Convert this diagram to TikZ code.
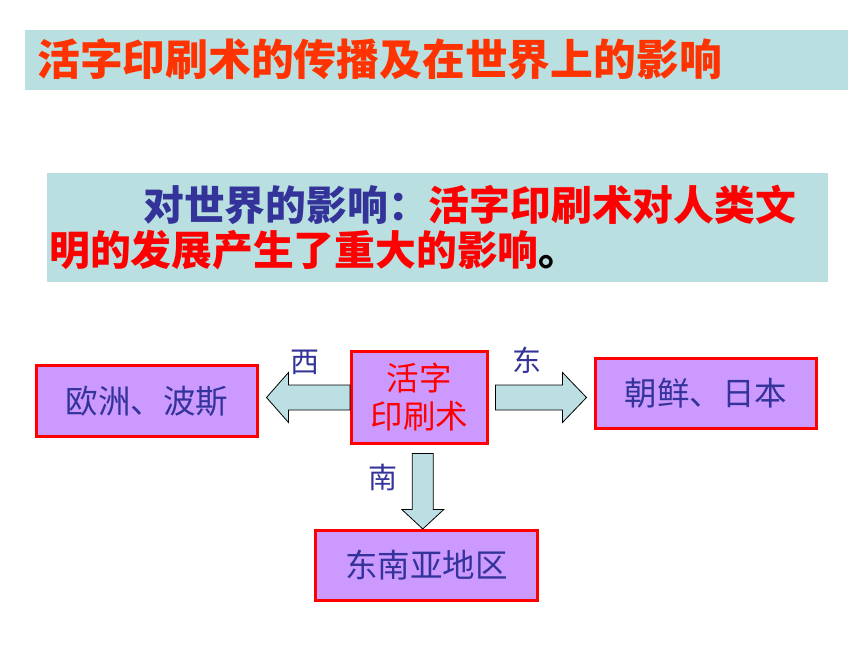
\documentclass[tikz,border=0pt]{standalone}
\usepackage{fontspec}
\usepackage{tikz}
\usetikzlibrary{calc}
\newfontfamily\cjk{Noto Sans CJK SC}
\definecolor{bandfill}{HTML}{B9DFE1}
\definecolor{titlered}{HTML}{FF3300}
\definecolor{infored}{HTML}{FF0000}
\definecolor{infoblue}{HTML}{333399}
\definecolor{boxfill}{HTML}{CC99FF}
\definecolor{arrowfill}{HTML}{BBDFE2}

\begin{document}
\begin{tikzpicture}[x=1pt,y=-1pt,
	band/.style={fill=bandfill,draw=none,inner sep=0pt},
	place/.style={draw=infored,fill=boxfill,line width=3pt,inner sep=0pt,text=infoblue,font=\cjk\fontsize{32.5}{38}\selectfont},
	dirlabel/.style={text=infoblue,inner sep=0pt,font=\cjk\fontsize{29}{32}\selectfont},
	blockarrow/.style={draw=black,fill=arrowfill,line width=0.8pt,line join=miter}]
	\path[use as bounding box,fill=white] (0,0) rectangle (860,645);
	%\node[band] (title) at (436.5,60) {};
	\node[band,minimum width=823pt,minimum height=60pt] (title) at (436.5,60) {};
	\node[anchor=west,inner sep=0pt,text=titlered,font=\cjk\bfseries\fontsize{42.8}{48}\selectfont] (titletext) at (37,59) {活字印刷术的传播及在世界上的影响};
	\node[band,minimum width=781pt,minimum height=109pt] (info) at (437.5,227.5) {};
	\node[anchor=west,inner sep=0pt,font=\cjk\bfseries\fontsize{40.8}{44}\selectfont] (infoa) at (143,205)
		{\textcolor{infoblue}{对世界的影响：}\textcolor{infored}{活字印刷术对人类文}};
	\node[anchor=west,inner sep=0pt,font=\cjk\bfseries\fontsize{40.8}{44}\selectfont] (infob) at (49,250)
		{\textcolor{infored}{明的发展产生了重大的影响}\textcolor{black}{。}};
	% places
	\node[place,minimum width=135.7pt,minimum height=92pt,text=infored,align=center] (print) at (419.3,397.5) {活字\\印刷术};
	\node[place,minimum width=221pt,minimum height=71pt] (europe) at (147,401) {欧洲、波斯};
	\node[place,minimum width=221pt,minimum height=70pt] (korea) at (706,393.5) {朝鲜、日本};
	\node[place,minimum width=221.7pt,minimum height=69.7pt] (asia) at (426.3,565.3) {东南亚地区};
	% arrows
	\coordinate (wtip) at ($(europe.east |- print.west)+(7.5,0)$);
	\coordinate (etip) at ($(korea.west |- print.east)+(-7.5,0)$);
	\coordinate (stip) at ($(print.south |- asia.north)+(3.5,0)$);
	\draw[blockarrow] ($(print.west)+(0,-12.5)$) -- ($(wtip)+(22,-12.5)$) -- ($(wtip)+(22,-25)$) -- (wtip)
		-- ($(wtip)+(22,25)$) -- ($(wtip)+(22,12.5)$) -- ($(print.west)+(0,12.5)$) -- cycle;
	\draw[blockarrow] ($(print.east)+(6.8,-12.5)$) -- ($(etip)+(-24,-12.5)$) -- ($(etip)+(-24,-25)$) -- (etip)
		-- ($(etip)+(-24,25)$) -- ($(etip)+(-24,12.5)$) -- ($(print.east)+(6.8,12.5)$) -- cycle;
	\draw[blockarrow] ($(print.south)+(-7,8.5)$) -- ($(stip)+(-10.5,-19.5)$) -- ($(stip)+(-21,-19.5)$) -- (stip)
		-- ($(stip)+(21,-19.5)$) -- ($(stip)+(10.5,-19.5)$) -- ($(print.south)+(14,8.5)$) -- cycle;
	\node[dirlabel] (west) at (305,362) {西};
	\node[dirlabel] (east) at (527,360) {东};
	\node[dirlabel] (south) at (383,477) {南};
\end{tikzpicture}
\end{document}
